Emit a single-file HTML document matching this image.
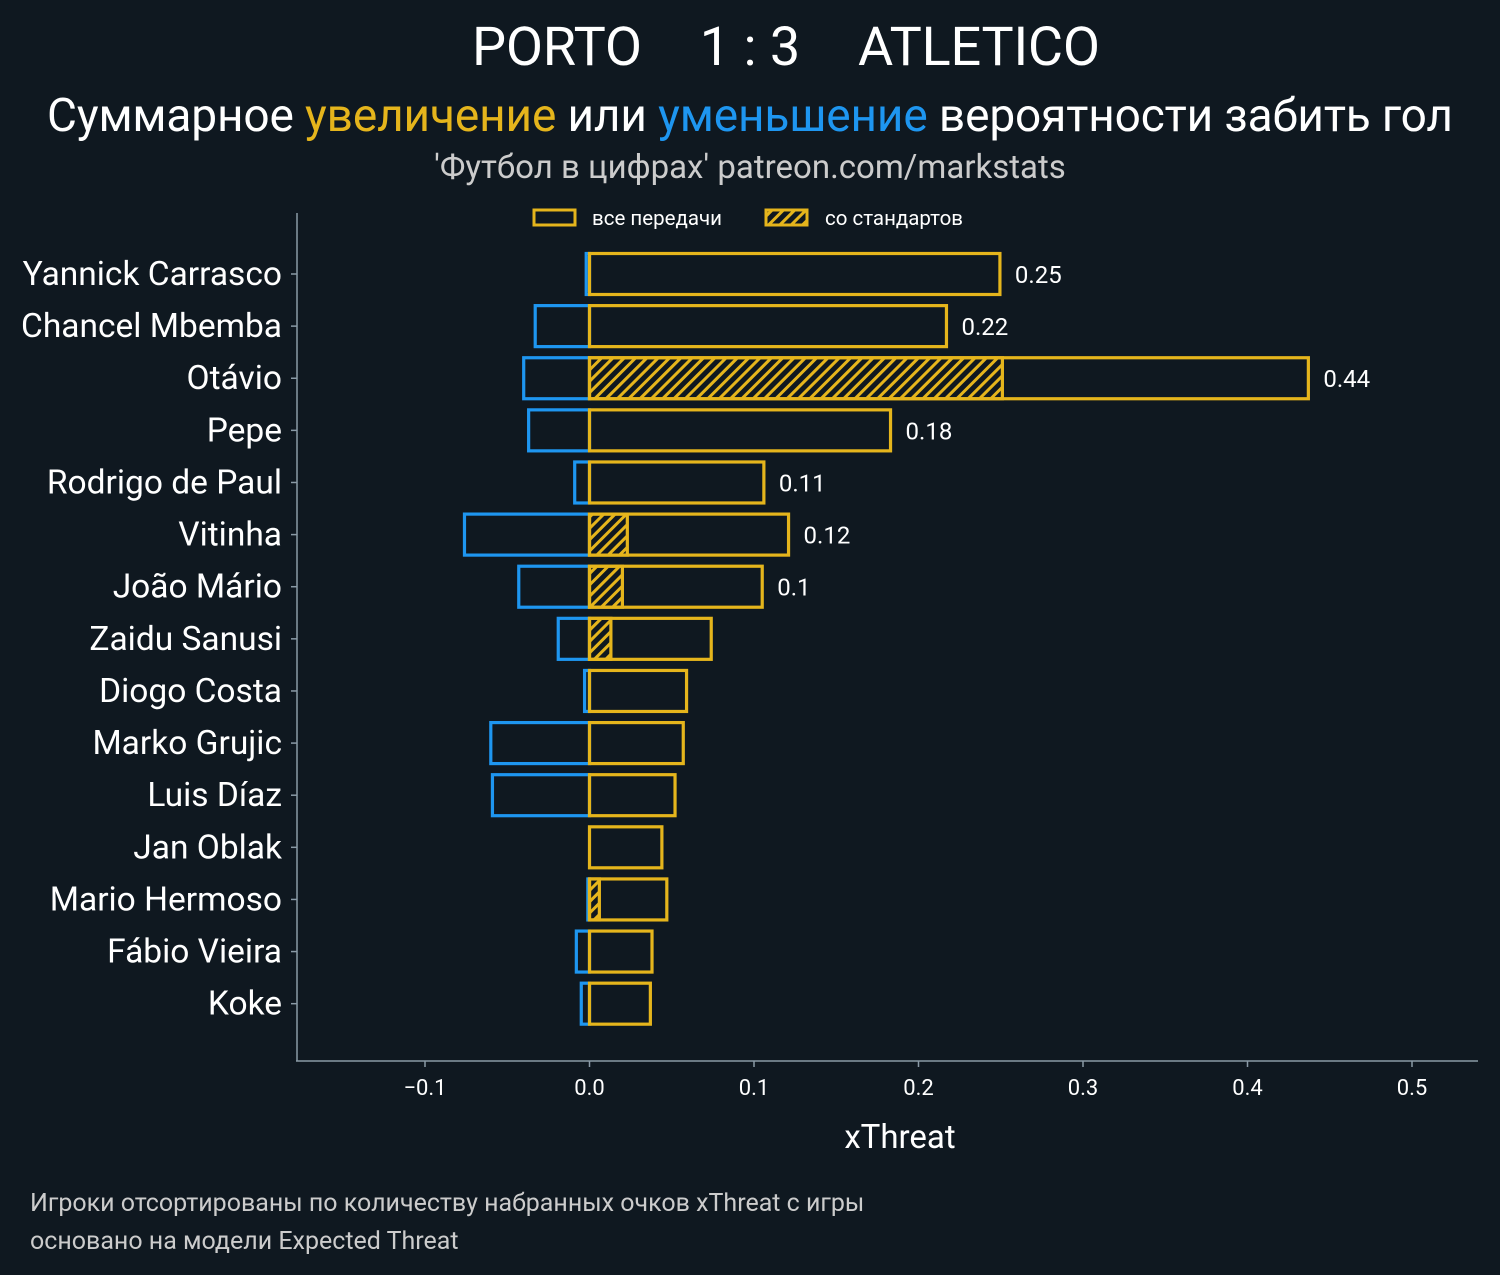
<!DOCTYPE html>
<html><head><meta charset="utf-8"><style>
body{margin:0;background:#0f1820;}
svg{display:block;font-family:"Roboto","Liberation Sans",sans-serif;}
</style></head><body>
<svg id="chart" width="1500" height="1275">
<defs>
<pattern id="hatch" patternUnits="userSpaceOnUse" width="8" height="8" patternTransform="rotate(45)">
<rect width="8" height="8" fill="#e5b51c"/><rect x="0" y="0" width="5" height="8" fill="#0f1820"/>
</pattern>
</defs>
<rect width="1500" height="1275" fill="#0f1820"/>
<g fill="#fff" font-size="54">
<text x="472" y="65" textLength="170">PORTO</text>
<text x="750" y="65" text-anchor="middle">1 : 3</text>
<text x="858" y="65" textLength="242">ATLETICO</text>
</g>
<text x="750" y="131" text-anchor="middle" fill="#fff" font-size="46" textLength="1406">Суммарное <tspan fill="#e5b51c">увеличение</tspan> или <tspan fill="#1e96f0">уменьшение</tspan> вероятности забить гол</text>
<text x="750" y="178" text-anchor="middle" fill="#cccccc" font-size="33">'Футбол в цифрах' patreon.com/markstats</text>
<g>
<rect x="534" y="210" width="41" height="15" fill="none" stroke="#e5b51c" stroke-width="3"/>
<text x="592" y="225" fill="#fff" font-size="20.5">все передачи</text>
<rect x="766" y="210" width="41" height="15" fill="url(#hatch)" stroke="#e5b51c" stroke-width="3"/>
<text x="825" y="225" fill="#fff" font-size="20.5">со стандартов</text>
</g>
<g id="plot"></g>
<line x1="297" y1="213" x2="297" y2="1061" stroke="#8a9aa6" stroke-width="1.5"/>
<line x1="296" y1="1061" x2="1478" y2="1061" stroke="#8a9aa6" stroke-width="1.5"/>
<text x="900" y="1148" text-anchor="middle" fill="#fff" font-size="33">xThreat</text>
<text x="30" y="1211" fill="#cccccc" font-size="25">Игроки отсортированы по количеству набранных очков xThreat с игры</text>
<text x="30" y="1249" fill="#cccccc" font-size="25">основано на модели Expected Threat</text>
</svg>
<script>
const players=["Yannick Carrasco","Chancel Mbemba","Otávio","Pepe","Rodrigo de Paul","Vitinha","João Mário","Zaidu Sanusi","Diogo Costa","Marko Grujic","Luis Díaz","Jan Oblak","Mario Hermoso","Fábio Vieira","Koke"];
const positive=[0.2495,0.217,0.437,0.183,0.106,0.121,0.105,0.074,0.059,0.057,0.052,0.044,0.047,0.038,0.037];
const setPieces=[0,0,0.251,0,0,0.023,0.020,0.013,0,0,0,0,0.006,0,0];
const negative=[-0.002,-0.033,-0.040,-0.037,-0.009,-0.076,-0.043,-0.019,-0.003,-0.060,-0.059,0,-0.001,-0.008,-0.005];
const valueLabels=["0.25","0.22","0.44","0.18","0.11","0.12","0.1","","","","","","","",""];
const xTicks=[-0.1,0,0.1,0.2,0.3,0.4,0.5];
const xTickLabels=["\u22120.1","0.0","0.1","0.2","0.3","0.4","0.5"];
const NS="http://www.w3.org/2000/svg";
const xs=v=>589.5+v*1645;
const ys=i=>274+i*52.12;
const g=document.getElementById('plot');
function mk(t,a){const e=document.createElementNS(NS,t);for(const k in a)e.setAttribute(k,a[k]);g.appendChild(e);return e;}
xTicks.forEach((t,i)=>{
 const l=mk('line',{x1:xs(t),x2:xs(t),y1:1061,y2:1067,stroke:'#8a9aa6','stroke-width':1.5});
 
 
 const tx=mk('text',{x:xs(t),y:1095,'text-anchor':'middle',fill:'#fff','font-size':22});
 tx.textContent=xTickLabels[i];
 
 
});
players.forEach((p,i)=>{
 const y=ys(i),h=41;
 const tk=mk('line',{x1:291,x2:297,y1:y,y2:y,stroke:'#8a9aa6','stroke-width':1.5});
 
 
 const lb=mk('text',{x:282,y:y+11,'text-anchor':'end',fill:'#fff','font-size':33.5});
 lb.textContent=p;
 
 
 if(negative[i]<0){
  const nb=mk('rect',{x:xs(negative[i]),y:y-h/2,width:xs(0)-xs(negative[i]),height:h,fill:'none',stroke:'#1e96f0','stroke-width':3.2});
  
  
 }
 if(setPieces[i]>0){
  const sb=mk('rect',{x:xs(0),y:y-h/2,width:xs(setPieces[i])-xs(0),height:h,fill:'url(#hatch)',stroke:'#e5b51c','stroke-width':3.2});
  
  
 }
 const pb=mk('rect',{x:xs(0),y:y-h/2,width:xs(positive[i])-xs(0),height:h,fill:'none',stroke:'#e5b51c','stroke-width':3.2});
 
 
 if(valueLabels[i]){
  const vl=mk('text',{x:xs(positive[i])+15,y:y+9,fill:'#fff','font-size':24});
  vl.textContent=valueLabels[i];
  
  
 }
});
</script>
</body></html>
